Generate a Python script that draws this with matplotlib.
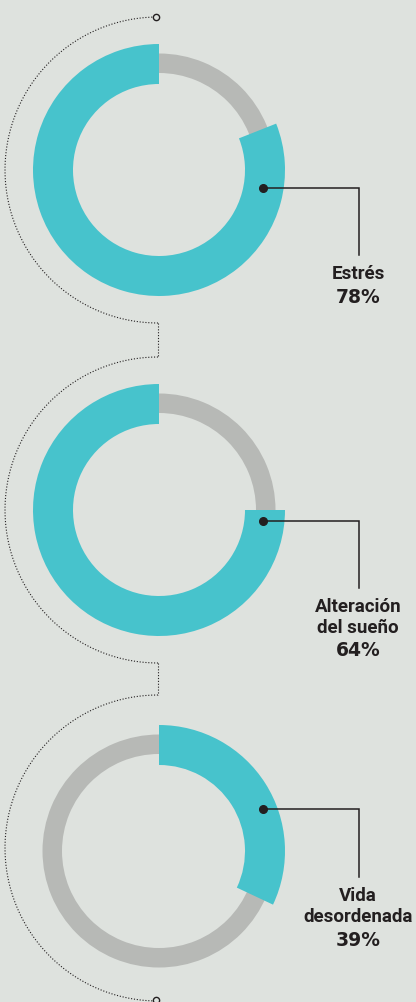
import numpy as np
import matplotlib.pyplot as plt

# chart data
categories = ['Estrés', 'Alteración\ndel sueño', 'Vida\ndesordenada']
percent = [78, 64, 39]
# share of the ring painted teal, as it is drawn in the picture
arc_share = [81, 75, 32]
clockwise = [False, False, True]

W, H = 416, 1002
teal = '#47c3cc'
track = '#b7b9b6'
ink = '#231f20'
bg = '#dee2de'

# layout (pixels from top)
cx = 159
cy = [170, 510, 851]
dot_dy = [18, 11, -42]
leader_end = [255, 588, 877]
label_x = 358

fig = plt.figure(figsize=(W / 100, H / 100), dpi=100)
fig.patch.set_facecolor(bg)
ax = fig.add_axes([0, 0, 1, 1])
ax.set_facecolor(bg)

# dotted guide arcs on the left
arc_cy = [170, 510, 848]
t = np.linspace(np.pi / 2, 3 * np.pi / 2, 300)
for i, c in enumerate(arc_cy):
  ax.plot(cx - 1 + 153 * np.cos(t), H - (c - 153 * np.sin(t)), color=ink,
          lw=0.8, ls=(0, (1, 1.6)))
  if i < len(arc_cy) - 1:
    ax.plot([cx - 1, cx - 1], [H - (c + 153), H - (arc_cy[i + 1] - 153)],
            color=ink, lw=0.8, ls=(0, (1, 1.6)))
ax.plot([cx - 3, cx - 3], [H - 17, H - 1000], 'o', ms=4.5, mfc=bg, mec=ink,
        mew=1, ls='none')

for i in range(len(categories)):
  yc = H - cy[i]
  # grey track
  ax.pie([100], radius=116.5, center=(cx, yc), colors=[track],
         wedgeprops=dict(width=19.5, linewidth=0))
  # teal share
  ax.pie([arc_share[i], 100 - arc_share[i]], radius=126, center=(cx, yc),
         startangle=90, counterclock=not clockwise[i],
         colors=[teal, 'none'], wedgeprops=dict(width=40, linewidth=0))

  # leader line
  dx, dy = cx + 104, yc - dot_dy[i]
  ax.plot([dx, label_x + 1, label_x + 1], [dy, dy, H - leader_end[i]],
          color=ink, lw=1.1, solid_joinstyle='miter')
  ax.plot(dx, dy, 'o', color=ink, ms=5.5)

  lines = categories[i].split('\n')
  ty = leader_end[i] + 19
  for ln in lines:
    ax.text(label_x, H - ty, ln, ha='center', va='center', fontsize=13.5,
            family='Roboto', weight='bold', color=ink)
    ty += 21
  ax.text(label_x, H - ty - 2, f'{percent[i]}%', ha='center', va='center',
          fontsize=13.5, family='DejaVu Sans', weight='bold', color=ink)

ax.set_xlim(0, W)
ax.set_ylim(0, H)
ax.set_aspect('equal')
ax.axis('off')

plt.savefig('out.png', dpi=100, facecolor=bg)
